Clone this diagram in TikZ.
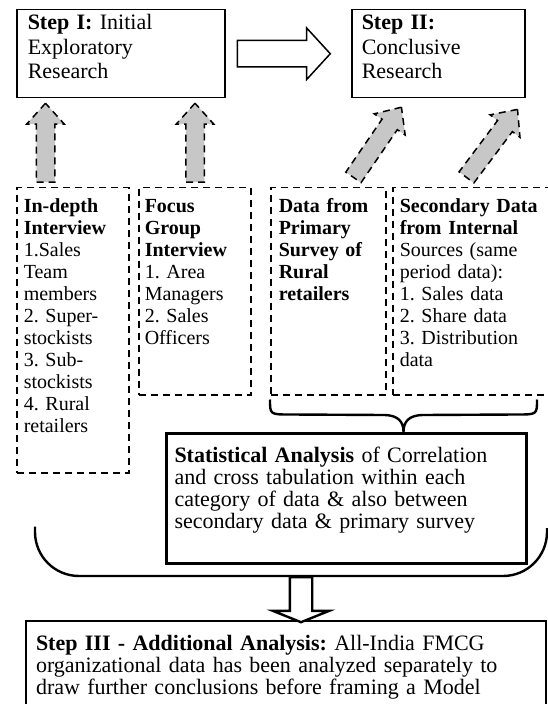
\documentclass[tikz,border=0pt]{standalone}
\usepackage{fontspec}
\setmainfont{Liberation Serif}
\usetikzlibrary{shapes.arrows,positioning,calc}

\begin{document}
\begin{tikzpicture}[x=0.5pt,y=-0.5pt,
  every node/.style={font=\fontsize{11}{11}\selectfont\frenchspacing},
  box/.style={anchor=north west,align=left,inner ysep=4.5pt,text height=8pt},
  stepbox/.style={box,draw,line width=0.75pt,inner ysep=2pt,text depth=32pt,font=\fontsize{11}{12.25}\selectfont},
  dashbox/.style={box,draw,line width=0.75pt,dash pattern=on 3.5pt off 2.5pt,font=\fontsize{10}{11}\selectfont\frenchspacing},
  statbox/.style={box,draw,line width=1.5pt,inner xsep=4pt,inner ysep=6.5pt,text width=172pt,text depth=44pt},
  grayarrow/.style={single arrow,draw,fill=black!22,line width=0.75pt,dash pattern=on 3.5pt off 2.5pt,
    inner xsep=0pt,inner ysep=4.25pt,single arrow head extend=4.75pt,single arrow tip angle=84,
    minimum height=39.5pt,anchor=west},
  hollowarrow/.style={single arrow,draw,fill=white,line width=0.75pt,inner xsep=0pt,inner ysep=6.25pt,
    single arrow head extend=6.25pt,single arrow tip angle=95,minimum height=46.5pt},
  downarrow/.style={single arrow,draw,fill=white,line width=1.2pt,inner xsep=0pt,inner ysep=5pt,
    single arrow head extend=8.5pt,single arrow tip angle=136,minimum height=22.5pt,anchor=west},
  bracket/.style={line width=1.2pt}]
  \useasboundingbox (0,0) rectangle (547,704);

  % the two research steps
  \node[stepbox,text width=93pt,inner xsep=5.5pt] (stepI) at (16,9) {\textbf{Step I:} Initial\\Exploratory\\Research};
  \node[hollowarrow,right=5.5pt of stepI] (toII) {};
  \node[stepbox,text width=76.5pt,inner xsep=5pt] (stepII) at (351,9) {\textbf{Step II:}\\Conclusive\\Research};

  % sources of data
  \node[dashbox,text width=49pt,inner xsep=3.5pt,text depth=125.5pt] (indepth) at (16,187)
    {\textbf{In-depth}\\\textbf{Interview}\\1.Sales\\Team\\members\\2. Super-\\stockists\\3. Sub-\\stockists\\4. Rural\\retailers};
  \node[dashbox,text width=50pt,inner xsep=3pt,text depth=86.5pt] (focus) at (138,187)
    {\textbf{Focus}\\\textbf{Group}\\\textbf{Interview}\\1. Area\\Managers\\2. Sales\\Officers};
  \node[dashbox,text width=49.5pt,inner xsep=4pt,text depth=86.5pt] (survey) at (270,187)
    {\textbf{Data from}\\\textbf{Primary}\\\textbf{Survey of}\\\textbf{Rural}\\\textbf{retailers}};
  \node[dashbox,text width=80pt,inner xsep=3.5pt,text depth=86.5pt] (secdata) at (392,187)
    {\textbf{Secondary Data}\\\textbf{from Internal}\\Sources (same\\period data):\\1. Sales data\\2. Share data\\3. Distribution\\data};

  \node[grayarrow,rotate=90] (upI) at ($(indepth.north west)+(29.5,-4)$) {};
  \node[grayarrow,rotate=90] (upF) at ($(focus.north west)+(57,-4)$) {};
  \node[grayarrow,rotate=55.6,minimum height=42.5pt] (upP) at ($(survey.north west)+(83,-9)$) {};
  \node[grayarrow,rotate=53.1,minimum height=42.5pt] (upS) at ($(secdata.north west)+(74,-9)$) {};

  % analysis
  \node[statbox] (stat) at (165,432)
    {\textbf{Statistical Analysis} of Correlation\\and cross tabulation within each\\category of data \& also between\\secondary data \& primary survey};

  \coordinate (brL) at ($(survey.south west)+(0,4)$);
  \coordinate (brR) at ($(secdata.south west)+(145,4)$);
  \coordinate (brM) at ($(brL)!0.5!(brR)$);
  \coordinate (brT) at (brM |- stat.north);
  \draw[bracket] (brL) .. controls +(0,15) and +(-20,0) .. ($(brL)+(20,15)$)
    -- ($(brT)+(-20,-17)$) .. controls +(15,0) and +(0,-10) .. (brT)
    .. controls +(0,-10) and +(-15,0) .. ($(brT)+(20,-17)$)
    -- ($(brR)+(-20,15)$) .. controls +(20,0) and +(0,15) .. (brR);

  \node[box,draw,line width=1pt,inner xsep=5pt,inner ysep=6.5pt,text width=250pt,text depth=24pt] (stepIII) at (25,620)
    {\textbf{Step III - Additional Analysis:} All-India FMCG\\organizational data has been analyzed separately to\\draw further conclusions before framing a Model};
  \node[downarrow,rotate=-90] (dn) at ($(stepIII.north west)+(276,-44)$) {};

  \coordinate (bigL) at ($(indepth.south west)+(19,53)$);
  \coordinate (bigR) at ($(stat.south east)+(19,-37)$);
  \draw[bracket,rounded corners=22pt] (bigL) |- (dn.west) -| (bigR);
\end{tikzpicture}
\end{document}
